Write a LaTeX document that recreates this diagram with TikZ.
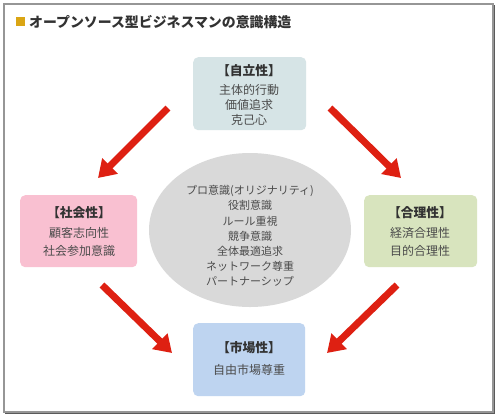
\documentclass[tikz,border=0pt]{standalone}
\usepackage{fontspec}
\setmainfont{Noto Sans CJK JP}
\usetikzlibrary{arrows.meta}
\definecolor{frameg}{RGB}{150,150,150}
\definecolor{frameshadow}{RGB}{90,90,90}
\definecolor{goldsq}{RGB}{218,165,20}
\definecolor{boxtop}{RGB}{214,228,230}
\definecolor{boxleft}{RGB}{249,192,209}
\definecolor{boxright}{RGB}{216,228,190}
\definecolor{boxbottom}{RGB}{190,212,240}
\definecolor{ellg}{RGB}{217,217,217}
\definecolor{arrred}{RGB}{222,32,18}
\definecolor{txtg}{RGB}{75,75,75}
\definecolor{ttlg}{RGB}{50,50,50}
\tikzset{
  box/.style={draw=none, rounded corners=5bp, anchor=north west, inner sep=0pt},
  boxtitle/.style={font=\fontsize{12.8bp}{15bp}\selectfont\bfseries, text=ttlg, inner sep=0pt},
  boxtext/.style={font=\fontsize{12bp}{15bp}\selectfont, text=txtg, inner sep=0pt, align=center},
  bigarrow/.style={draw=arrred, line width=7bp, -{Triangle[width=21bp,length=17bp]}, shorten >=0pt}
}
\begin{document}
\begin{tikzpicture}[x=1bp,y=-1bp]
\useasboundingbox (0,0) rectangle (500,417);
\fill[white] (0,0) rectangle (500,417);
% frame
\draw[frameshadow, line width=1.2bp] (5,413) -- (494,413) -- (494,5);
\draw[frameg, line width=1.2bp] (4,4) rectangle (493,412);
% title
\fill[goldsq] (16,17) rectangle (25,26);
\node[anchor=west, inner sep=0pt, font=\fontsize{13.9bp}{16bp}\selectfont\bfseries, text=ttlg] (title) at (29,22) {オープンソース型ビジネスマンの意識構造};
% center ellipse
\fill[ellg] (250,230) ellipse [x radius=101, y radius=77];
\node[inner sep=0pt, align=center, font=\fontsize{11bp}{15.2bp}\selectfont, text=txtg] (core) at (250,236)
  {プロ意識(オリジナリティ)\\役割意識\\ルール重視\\競争意識\\全体最適追求\\ネットワーク尊重\\パートナーシップ};
% boxes
\node[box, fill=boxtop, minimum width=113bp, minimum height=73bp] (top) at (193,57) {};
\node[boxtitle] (toptitle) at (249,71) {【自立性】};
\node[boxtext] (toptext) at (249,105) {主体的行動\\価値追求\\克己心};

\node[box, fill=boxleft, minimum width=117bp, minimum height=72bp] (left) at (20,195) {};
\node[boxtitle] (lefttitle) at (79,213) {【社会性】};
\node[boxtext, font=\fontsize{12bp}{18bp}\selectfont] (lefttext) at (79,242) {顧客志向性\\社会参加意識};

\node[box, fill=boxright, minimum width=113bp, minimum height=72bp] (right) at (364,195) {};
\node[boxtitle] (righttitle) at (420,213) {【合理性】};
\node[boxtext, font=\fontsize{12bp}{18bp}\selectfont] (righttext) at (420,242) {経済合理性\\目的合理性};

\node[box, fill=boxbottom, minimum width=112bp, minimum height=73bp] (bottom) at (193,323) {};
\node[boxtitle] (bottomtitle) at (249,348) {【市場性】};
\node[boxtext] (bottomtext) at (249,370) {自由市場尊重};
% arrows
\coordinate (a1s) at (168,108); \coordinate (a1e) at (98,178);
\coordinate (a2s) at (330,108); \coordinate (a2e) at (401,178);
\coordinate (a3s) at (102,285); \coordinate (a3e) at (172,353);
\coordinate (a4s) at (397,285); \coordinate (a4e) at (327,353);
\draw[bigarrow] (a1s) -- (a1e);
\draw[bigarrow] (a2s) -- (a2e);
\draw[bigarrow] (a3s) -- (a3e);
\draw[bigarrow] (a4s) -- (a4e);
\end{tikzpicture}
\end{document}
